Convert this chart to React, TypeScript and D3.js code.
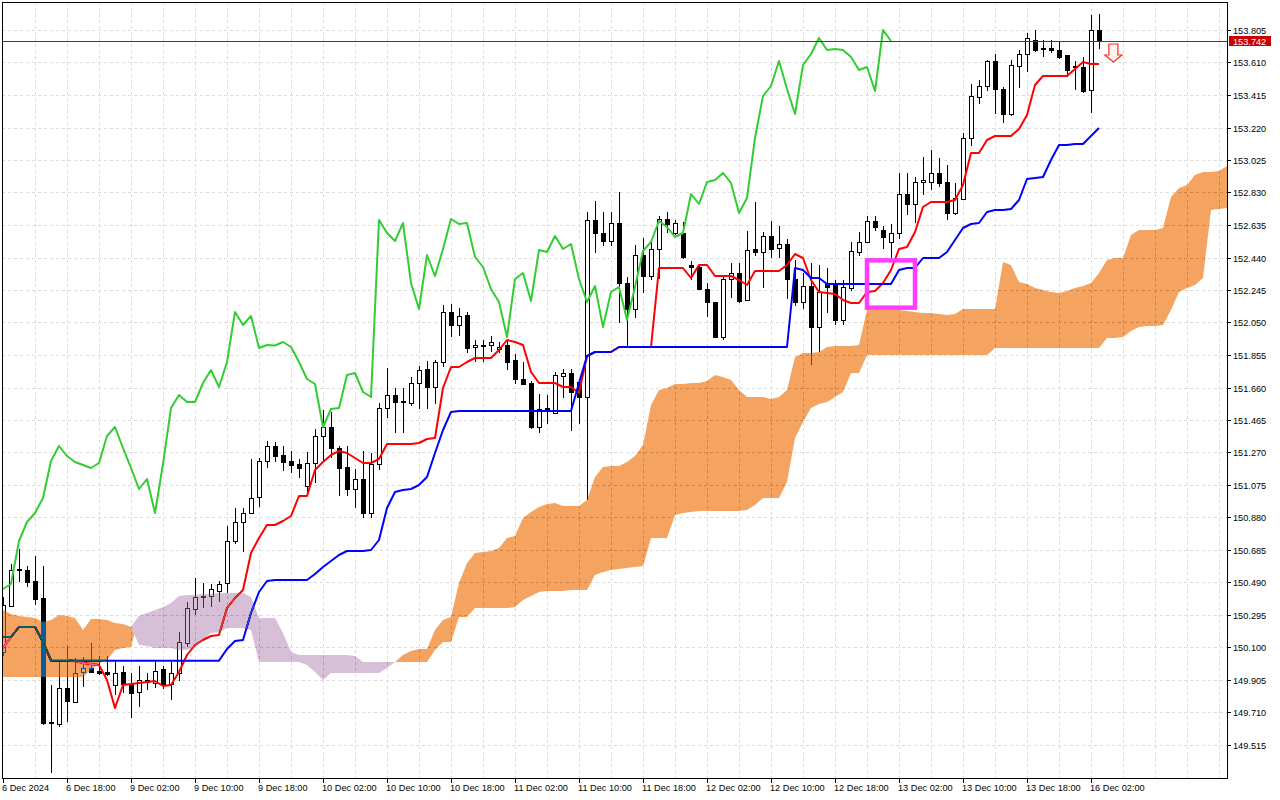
import React, { useRef, useEffect } from 'react';
import * as d3 from 'd3';

// USDJPY H1, first visible bar 6 Dec 2024 10:00
const opens = [
  150.076, 150.352, 150.568, 150.568, 150.502, 150.400, 149.650, 149.644, 149.860, 149.776,
  149.956, 149.980, 149.962, 149.956, 149.878, 149.956, 149.884, 149.836, 149.905, 149.890,
  149.974, 149.884, 149.950, 150.130, 150.334, 150.406, 150.412, 150.442, 150.490, 150.742,
  150.856, 150.910, 151.006, 151.222, 151.312, 151.258, 151.222, 151.204, 151.072, 151.210,
  151.372, 151.426, 151.300, 151.186, 151.054, 151.114, 150.910, 151.204, 151.540, 151.618,
  151.582, 151.570, 151.690, 151.774, 151.666, 151.816, 152.116, 152.038, 152.098, 151.906,
  151.918, 151.918, 151.894, 151.918, 151.828, 151.714, 151.690, 151.426, 151.534, 151.510,
  151.732, 151.750, 151.696, 151.606, 152.668, 152.590, 152.542, 152.650, 152.290, 152.134,
  152.458, 152.332, 152.494, 152.674, 152.590, 152.590, 152.398, 152.386, 152.254, 152.176,
  151.966, 152.314, 152.350, 152.188, 152.494, 152.476, 152.572, 152.500, 152.524, 152.314,
  152.176, 152.272, 152.026, 152.284, 152.278, 152.068, 152.260, 152.476, 152.536, 152.662,
  152.608, 152.536, 152.590, 152.824, 152.764, 152.896, 152.896, 152.950, 152.896, 152.710,
  152.794, 153.160, 153.406, 153.472, 153.622, 153.454, 153.304, 153.592, 153.664, 153.748,
  153.700, 153.700, 153.688, 153.658, 153.592, 153.586, 153.448, 153.808,
];
const highs = [
  150.400, 150.598, 150.694, 150.586, 150.652, 150.586, 149.878, 150.028, 150.106, 150.034,
  150.040, 150.124, 150.046, 150.046, 150.016, 149.986, 149.950, 149.986, 149.950, 150.016,
  149.986, 150.010, 150.190, 150.370, 150.514, 150.484, 150.478, 150.496, 150.826, 150.934,
  150.934, 151.228, 151.234, 151.336, 151.330, 151.306, 151.276, 151.228, 151.270, 151.414,
  151.528, 151.516, 151.306, 151.306, 151.168, 151.276, 151.264, 151.570, 151.774, 151.660,
  151.660, 151.720, 151.786, 151.816, 151.822, 152.158, 152.164, 152.140, 152.110, 151.942,
  151.942, 151.966, 151.930, 151.948, 151.858, 151.810, 151.696, 151.624, 151.618, 151.750,
  151.768, 151.768, 151.708, 152.710, 152.776, 152.710, 152.710, 152.830, 152.326, 152.518,
  152.554, 152.530, 152.686, 152.710, 152.662, 152.650, 152.422, 152.398, 152.290, 152.176,
  152.326, 152.410, 152.410, 152.596, 152.770, 152.590, 152.656, 152.626, 152.548, 152.428,
  152.350, 152.410, 152.398, 152.380, 152.308, 152.308, 152.530, 152.590, 152.686, 152.686,
  152.626, 152.638, 152.950, 152.950, 152.926, 153.046, 153.088, 153.040, 152.998, 152.890,
  153.190, 153.478, 153.502, 153.628, 153.664, 153.460, 153.628, 153.688, 153.790, 153.808,
  153.748, 153.748, 153.736, 153.658, 153.616, 153.646, 153.898, 153.904,
];
const lows = [
  150.052, 150.346, 150.496, 150.466, 150.358, 149.638, 149.350, 149.626, 149.656, 149.770,
  149.866, 149.956, 149.944, 149.938, 149.818, 149.830, 149.680, 149.746, 149.850, 149.860,
  149.854, 149.790, 149.908, 150.106, 150.298, 150.340, 150.346, 150.376, 150.430, 150.730,
  150.682, 150.904, 150.946, 151.180, 151.216, 151.162, 151.150, 151.120, 151.036, 151.090,
  151.216, 151.240, 151.012, 151.012, 150.940, 150.880, 150.880, 151.168, 151.486, 151.396,
  151.396, 151.558, 151.540, 151.540, 151.570, 151.786, 151.966, 151.972, 151.870, 151.816,
  151.816, 151.876, 151.870, 151.768, 151.684, 151.678, 151.420, 151.396, 151.450, 151.510,
  151.606, 151.408, 151.450, 150.988, 152.476, 152.518, 152.518, 152.050, 151.912, 152.080,
  152.236, 152.314, 152.320, 152.590, 152.578, 152.440, 152.314, 152.254, 152.086, 151.966,
  151.948, 152.206, 152.176, 152.188, 152.458, 152.266, 152.446, 152.446, 152.200, 152.158,
  152.140, 151.798, 151.876, 152.110, 152.038, 152.038, 152.248, 152.458, 152.530, 152.602,
  152.500, 152.446, 152.554, 152.698, 152.650, 152.818, 152.848, 152.866, 152.668, 152.698,
  152.788, 153.118, 153.370, 153.442, 153.310, 153.256, 153.298, 153.460, 153.556, 153.682,
  153.652, 153.676, 153.640, 153.526, 153.448, 153.430, 153.316, 153.700,
];
const closes = [
  150.358, 150.568, 150.572, 150.496, 150.394, 149.650, 149.656, 149.860, 149.782, 149.950,
  149.980, 149.956, 149.950, 149.944, 149.950, 149.884, 149.830, 149.908, 149.896, 149.962,
  149.878, 149.950, 150.136, 150.340, 150.406, 150.412, 150.454, 150.484, 150.742, 150.856,
  150.910, 151.000, 151.222, 151.312, 151.252, 151.216, 151.198, 151.180, 151.210, 151.372,
  151.426, 151.300, 151.180, 151.054, 151.114, 150.910, 151.204, 151.540, 151.618, 151.576,
  151.576, 151.690, 151.768, 151.666, 151.816, 152.116, 152.038, 152.092, 151.900, 151.918,
  151.915, 151.936, 151.906, 151.816, 151.714, 151.684, 151.426, 151.534, 151.540, 151.738,
  151.750, 151.636, 151.606, 152.668, 152.590, 152.542, 152.650, 152.290, 152.134, 152.458,
  152.332, 152.494, 152.674, 152.644, 152.650, 152.446, 152.386, 152.254, 152.176, 151.966,
  152.314, 152.350, 152.182, 152.488, 152.476, 152.572, 152.494, 152.524, 152.314, 152.176,
  152.272, 152.026, 152.236, 152.266, 152.068, 152.266, 152.482, 152.536, 152.662, 152.626,
  152.566, 152.590, 152.824, 152.764, 152.896, 152.908, 152.950, 152.890, 152.710, 152.800,
  153.160, 153.412, 153.472, 153.622, 153.454, 153.304, 153.598, 153.664, 153.760, 153.688,
  153.694, 153.688, 153.646, 153.568, 153.586, 153.442, 153.808, 153.742,
];

// Ichimoku lines
const tenkan = [
  150.100, 150.166, 150.226, 150.226, 150.226, 150.136, 150.028, 150.028, 150.028, 150.022,
  150.010, 150.004, 149.998, 149.908, 149.740, 149.878, 149.884, 149.890, 149.896, 149.902,
  149.872, 149.878, 149.956, 150.058, 150.118, 150.148, 150.172, 150.178, 150.340, 150.400,
  150.448, 150.670, 150.760, 150.838, 150.838, 150.862, 150.892, 151.012, 151.012, 151.168,
  151.216, 151.258, 151.282, 151.270, 151.240, 151.210, 151.210, 151.234, 151.324, 151.324,
  151.324, 151.324, 151.330, 151.354, 151.360, 151.660, 151.786, 151.786, 151.816, 151.840,
  151.840, 151.840, 151.888, 151.948, 151.936, 151.918, 151.756, 151.690, 151.690, 151.690,
  151.666, 151.666, 151.630, 151.852, 151.876, 151.876, 151.876, 151.906, 151.906, 151.906,
  151.906, 151.906, 152.380, 152.380, 152.380, 152.380, 152.320, 152.398, 152.398, 152.332,
  152.332, 152.332, 152.308, 152.278, 152.362, 152.362, 152.362, 152.362, 152.398, 152.464,
  152.440, 152.308, 152.236, 152.230, 152.224, 152.188, 152.170, 152.170, 152.236, 152.242,
  152.290, 152.368, 152.494, 152.506, 152.596, 152.746, 152.776, 152.776, 152.776, 152.788,
  152.878, 153.070, 153.070, 153.148, 153.172, 153.172, 153.172, 153.214, 153.298, 153.478,
  153.532, 153.532, 153.532, 153.532, 153.574, 153.616, 153.604, 153.604,
];
const kijun = [
  150.166, 150.166, 150.226, 150.226, 150.226, 150.136, 150.024, 150.024, 150.024, 150.024,
  150.024, 150.024, 150.024, 150.024, 150.024, 150.024, 150.024, 150.024, 150.024, 150.024,
  150.024, 150.024, 150.024, 150.024, 150.024, 150.024, 150.024, 150.024, 150.094, 150.142,
  150.148, 150.310, 150.436, 150.502, 150.508, 150.508, 150.508, 150.508, 150.508, 150.544,
  150.586, 150.622, 150.658, 150.682, 150.682, 150.682, 150.688, 150.748, 150.940, 151.036,
  151.048, 151.054, 151.078, 151.126, 151.270, 151.408, 151.516, 151.522, 151.522, 151.522,
  151.522, 151.522, 151.522, 151.522, 151.522, 151.522, 151.522, 151.522, 151.522, 151.522,
  151.522, 151.522, 151.690, 151.852, 151.876, 151.876, 151.876, 151.906, 151.906, 151.906,
  151.906, 151.906, 151.906, 151.906, 151.906, 151.906, 151.906, 151.906, 151.906, 151.906,
  151.906, 151.906, 151.906, 151.906, 151.906, 151.906, 151.906, 151.906, 151.906, 152.380,
  152.368, 152.320, 152.320, 152.284, 152.284, 152.284, 152.284, 152.284, 152.284, 152.284,
  152.284, 152.284, 152.368, 152.380, 152.380, 152.440, 152.440, 152.440, 152.476, 152.548,
  152.620, 152.644, 152.650, 152.716, 152.728, 152.728, 152.734, 152.788, 152.914, 152.920,
  152.926, 153.028, 153.118, 153.118, 153.124, 153.124, 153.172, 153.220,
];
// senkou spans, already shifted 26 bars ahead
const spanA = [
  150.328, 150.304, 150.292, 150.286, 150.280, 150.256, 150.268, 150.298, 150.292, 150.280,
  150.208, 150.274, 150.274, 150.268, 150.250, 150.244, 150.226, 150.118, 150.112, 150.100,
  150.100, 150.100, 150.088, 150.088, 150.106, 150.148, 150.190, 150.196, 150.220, 150.220,
  150.220, 150.208, 150.016, 150.016, 150.016, 150.016, 150.016, 150.016, 149.998, 149.956,
  149.908, 149.950, 149.950, 149.950, 149.950, 149.950, 149.950, 149.950, 149.980, 150.016,
  150.058, 150.082, 150.094, 150.094, 150.208, 150.268, 150.286, 150.490, 150.610, 150.670,
  150.676, 150.682, 150.700, 150.760, 150.772, 150.880, 150.916, 150.946, 150.964, 150.970,
  150.952, 150.952, 150.952, 150.988, 151.126, 151.186, 151.192, 151.192, 151.216, 151.252,
  151.318, 151.558, 151.648, 151.660, 151.684, 151.684, 151.690, 151.690, 151.702, 151.738,
  151.726, 151.708, 151.648, 151.606, 151.606, 151.606, 151.594, 151.606, 151.648, 151.846,
  151.870, 151.870, 151.876, 151.906, 151.912, 151.912, 151.912, 151.918, 152.128, 152.128,
  152.128, 152.128, 152.128, 152.122, 152.116, 152.110, 152.110, 152.104, 152.098, 152.104,
  152.134, 152.134, 152.134, 152.134, 152.134, 152.416, 152.398, 152.296, 152.284, 152.260,
  152.248, 152.236, 152.230, 152.242, 152.260, 152.272, 152.290, 152.350, 152.428, 152.440,
  152.440, 152.578, 152.608, 152.608, 152.608, 152.620, 152.806, 152.860, 152.878, 152.938,
  152.956, 152.956, 152.962, 152.992,
];
const spanB = [
  149.926, 149.926, 149.926, 149.926, 149.926, 149.926, 149.926, 149.926, 149.926, 149.926,
  149.926, 149.968, 150.010, 150.028, 150.088, 150.100, 150.106, 150.292, 150.310, 150.328,
  150.346, 150.370, 150.412, 150.418, 150.418, 150.424, 150.424, 150.430, 150.430, 150.430,
  150.430, 150.406, 150.280, 150.280, 150.280, 150.190, 150.076, 150.058, 150.058, 150.058,
  150.058, 150.058, 150.058, 150.058, 150.052, 150.016, 150.016, 150.016, 150.016, 150.016,
  150.016, 150.016, 150.016, 150.016, 150.088, 150.136, 150.136, 150.286, 150.286, 150.340,
  150.340, 150.340, 150.340, 150.340, 150.346, 150.388, 150.412, 150.436, 150.442, 150.442,
  150.442, 150.448, 150.448, 150.448, 150.538, 150.556, 150.568, 150.574, 150.580, 150.586,
  150.592, 150.760, 150.760, 150.760, 150.898, 150.910, 150.916, 150.922, 150.922, 150.922,
  150.922, 150.922, 150.922, 150.928, 150.958, 151.000, 151.000, 151.000, 151.096, 151.360,
  151.456, 151.540, 151.564, 151.576, 151.606, 151.636, 151.750, 151.750, 151.858, 151.858,
  151.858, 151.858, 151.858, 151.858, 151.858, 151.858, 151.858, 151.858, 151.858, 151.858,
  151.858, 151.858, 151.858, 151.858, 151.900, 151.900, 151.900, 151.900, 151.900, 151.900,
  151.900, 151.900, 151.900, 151.900, 151.900, 151.900, 151.900, 151.900, 151.960, 151.960,
  151.966, 152.002, 152.026, 152.032, 152.032, 152.038, 152.128, 152.236, 152.260, 152.278,
  152.320, 152.728, 152.734, 152.740,
];

// one label every 8 bars
const timeLabels = [
  '6 Dec 2024', '6 Dec 18:00', '9 Dec 02:00', '9 Dec 10:00', '9 Dec 18:00', '10 Dec 02:00',
  '10 Dec 10:00', '10 Dec 18:00', '11 Dec 02:00', '11 Dec 10:00', '11 Dec 18:00', '12 Dec 02:00',
  '12 Dec 10:00', '12 Dec 18:00', '13 Dec 02:00', '13 Dec 10:00', '13 Dec 18:00', '16 Dec 02:00',
];
const priceTicks = [
  153.805, 153.610, 153.415, 153.220, 153.025, 152.830, 152.635, 152.440, 152.245, 152.050,
  151.855, 151.660, 151.465, 151.270, 151.075, 150.880, 150.685, 150.490, 150.295, 150.100,
  149.905, 149.710, 149.515,
];

const lastPrice = 153.742;
const chikouShift = 26;
const markBox = { fromBar: 108, toBar: 114, low: 152.142, high: 152.426 };
const sellArrow = { bar: 138.8, price: 153.616 };

const width = 1280;
const height = 800;
const plot = { left: 2, top: 2, right: 1227, bottom: 778 };
const font = "'Liberation Sans', Arial, sans-serif";

const App: React.FC = () => {
  const svgRef = useRef<SVGSVGElement | null>(null);

  useEffect(() => {
    const svg = d3.select(svgRef.current);
    svg.selectAll('*').remove();

    const x = d3.scaleLinear().domain([0, 153]).range([3, 1227]);
    const y = d3.scaleLinear().domain([149.515, 153.805]).range([745.5, 30.5]);
    const px = (v: number) => Math.round(x(v)) + 0.5;
    const py = (v: number) => Math.floor(y(v)) + 0.5;

    svg.append('rect').attr('width', width).attr('height', height).attr('fill', '#fff');

    svg.append('defs').append('clipPath').attr('id', 'plot-clip')
      .append('rect')
      .attr('x', plot.left).attr('y', plot.top)
      .attr('width', plot.right - plot.left).attr('height', plot.bottom - plot.top);

    const chart = svg.append('g').attr('clip-path', 'url(#plot-clip)');
    // white backdrop inside the clipped group so the cloud blend has something to invert
    chart.append('rect').attr('x', 0).attr('y', 0).attr('width', width).attr('height', height).attr('fill', '#fff');

    // grid
    const grid = chart.append('g')
      .attr('stroke', '#dcdcdc')
      .attr('stroke-dasharray', '3,3')
      .attr('shape-rendering', 'crispEdges');
    grid.selectAll('line.h').data(priceTicks).join('line')
      .attr('class', 'h')
      .attr('x1', plot.left).attr('x2', plot.right)
      .attr('y1', d => py(d)).attr('y2', d => py(d));
    grid.selectAll('line.v').data(d3.range(4, 154, 4)).join('line')
      .attr('class', 'v')
      .attr('x1', d => px(d)).attr('x2', d => px(d))
      .attr('y1', plot.top).attr('y2', plot.bottom);

    // candles
    const bars = d3.range(opens.length);
    const candles = chart.append('g').attr('shape-rendering', 'crispEdges');
    candles.selectAll('line.wick').data(bars).join('line')
      .attr('class', 'wick')
      .attr('x1', i => px(i)).attr('x2', i => px(i))
      .attr('y1', i => Math.floor(y(highs[i])))
      .attr('y2', i => Math.floor(y(lows[i])) + 1)
      .attr('stroke', '#000');

    bars.forEach(i => {
      const cx = Math.round(x(i));
      const top = Math.round(y(Math.max(opens[i], closes[i])));
      const bot = Math.round(y(Math.min(opens[i], closes[i])));
      if (bot - top < 1) {
        candles.append('line')
          .attr('x1', cx - 2).attr('x2', cx + 3)
          .attr('y1', top + 0.5).attr('y2', top + 0.5)
          .attr('stroke', '#000');
      } else if (closes[i] >= opens[i]) {
        candles.append('rect')
          .attr('x', cx - 1.5).attr('y', top + 0.5)
          .attr('width', 4).attr('height', bot - top)
          .attr('fill', '#fff').attr('stroke', '#000');
      } else {
        candles.append('rect')
          .attr('x', cx - 2).attr('y', top)
          .attr('width', 5).attr('height', bot - top + 1)
          .attr('fill', '#000');
      }
    });

    // tenkan / kijun / chikou
    const line = d3.line<[number, number]>().x(d => x(d[0])).y(d => y(d[1]));
    const lines = chart.append('g').attr('fill', 'none').attr('stroke-width', 2).attr('stroke-linejoin', 'round');
    lines.append('path').attr('d', line(tenkan.map((v, i) => [i, v]))).attr('stroke', '#ff0000');
    lines.append('path').attr('d', line(kijun.map((v, i) => [i, v]))).attr('stroke', '#0000ff');
    const chikou = closes.slice(chikouShift).map((v, i) => [i, v] as [number, number]);
    lines.append('path').attr('d', line(chikou)).attr('stroke', '#32cd32');

    // kumo: drawn with inverted colours in difference mode, like the terminal does
    const idx = d3.range(spanA.length);
    const upCloud = d3.area<number>()
      .x(i => x(i))
      .y0(i => y(spanB[i]))
      .y1(i => y(Math.max(spanA[i], spanB[i])));
    const downCloud = d3.area<number>()
      .x(i => x(i))
      .y0(i => y(spanA[i]))
      .y1(i => y(Math.max(spanA[i], spanB[i])));
    const cloud = chart.append('g').style('mix-blend-mode', 'difference');
    cloud.append('path').attr('d', upCloud(idx)).attr('fill', '#0b5b9f'); // sandy brown inverted
    cloud.append('path').attr('d', downCloud(idx)).attr('fill', '#274027'); // thistle inverted

    // marked zone
    chart.append('rect')
      .attr('x', x(markBox.fromBar)).attr('y', y(markBox.high))
      .attr('width', x(markBox.toBar) - x(markBox.fromBar))
      .attr('height', y(markBox.low) - y(markBox.high))
      .attr('fill', 'none').attr('stroke', '#ff3cff').attr('stroke-width', 4.5);

    // sell arrow
    const ax = x(sellArrow.bar);
    const ay = y(sellArrow.price);
    chart.append('path')
      .attr('d', `M${ax},${ay} L${ax - 8.5},${ay - 7} L${ax - 4.5},${ay - 7} L${ax - 4.5},${ay - 18} L${ax + 4.5},${ay - 18} L${ax + 4.5},${ay - 7} L${ax + 8.5},${ay - 7} Z`)
      .attr('fill', '#fff4ee').attr('stroke', '#ff2a2a').attr('stroke-width', 1.2);

    // frame
    svg.append('rect')
      .attr('x', plot.left + 0.5).attr('y', plot.top + 0.5)
      .attr('width', plot.right - plot.left).attr('height', plot.bottom - plot.top)
      .attr('fill', 'none').attr('stroke', '#000').attr('shape-rendering', 'crispEdges');

    // last price line, kept outside the blended group
    svg.append('rect')
      .attr('x', plot.left + 1).attr('y', Math.floor(y(lastPrice)))
      .attr('width', plot.right - plot.left - 1).attr('height', 1)
      .attr('fill', 'rgb(210,0,0)');

    // price axis
    const yAxis = svg.append('g').attr('font-family', font).attr('font-size', 9.2);
    priceTicks.forEach(p => {
      yAxis.append('line')
        .attr('x1', plot.right).attr('x2', plot.right + 4)
        .attr('y1', py(p)).attr('y2', py(p))
        .attr('stroke', '#000').attr('shape-rendering', 'crispEdges');
      yAxis.append('text')
        .attr('x', plot.right + 6).attr('y', Math.floor(y(p)) + 3.5)
        .attr('fill', '#000')
        .text(p.toFixed(3));
    });
    const ly = Math.floor(y(lastPrice));
    yAxis.append('rect')
      .attr('x', plot.right + 2).attr('y', ly - 5)
      .attr('width', 42).attr('height', 10)
      .attr('fill', '#c80000');
    yAxis.append('text')
      .attr('x', plot.right + 6).attr('y', ly + 3.5)
      .attr('fill', '#fff')
      .text(lastPrice.toFixed(3));

    // time axis
    const xAxis = svg.append('g').attr('font-family', font).attr('font-size', 9.2);
    timeLabels.forEach((label, k) => {
      const bx = px(k * 8);
      xAxis.append('line')
        .attr('x1', bx).attr('x2', bx)
        .attr('y1', plot.bottom).attr('y2', plot.bottom + 5)
        .attr('stroke', '#000').attr('shape-rendering', 'crispEdges');
      xAxis.append('text')
        .attr('x', bx - 1.5).attr('y', plot.bottom + 13)
        .attr('fill', '#000')
        .text(label);
    });
  }, []);

  return (
    <svg
      ref={svgRef}
      width={width}
      height={height}
      style={{ position: 'fixed', left: 0, top: 0 }}
    />
  );
};

export default App;
